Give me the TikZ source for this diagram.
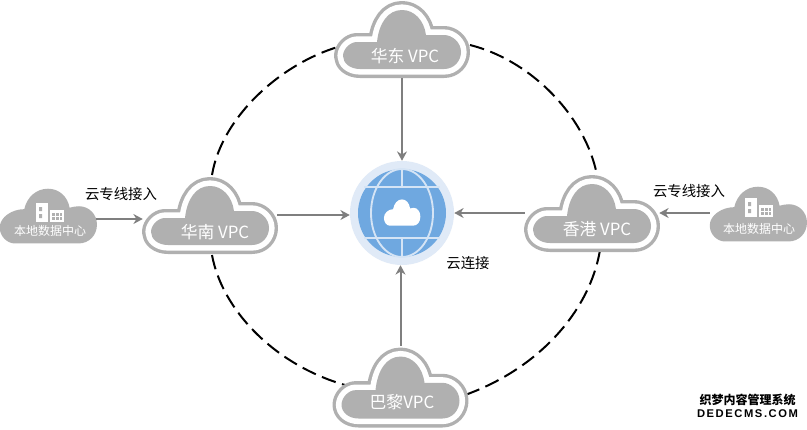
\documentclass[tikz,border=0pt]{standalone}
\usepackage{fontspec}
\setmainfont{Noto Sans CJK SC}
\newfontfamily\wmlatin[LetterSpace=14]{Liberation Sans}
\usetikzlibrary{arrows.meta,calc}
\definecolor{cloudgray}{HTML}{B0B0B0}
\definecolor{arrowgray}{HTML}{7F7F7F}
\definecolor{globeblue}{HTML}{6FA8E0}
\definecolor{globehalo}{HTML}{E0EAF7}
\definecolor{globeline}{HTML}{D5E4F5}
\newcommand{\cloudpath}{(-46,39) -- (42,39) .. controls (57,39) and (68,28) .. (68,13) .. controls (68,-1) and (57,-12) .. (43,-12) .. controls (38,-12) and (34,-11) .. (30,-10) .. controls (27,-26) and (15,-36) .. (0,-36) .. controls (-16,-36) and (-29,-25) .. (-33,-8) .. controls (-50,-8) and (-67,3) .. (-67,17) .. controls (-67,30) and (-56,39) .. (-46,39) -- cycle}
\newcommand{\innerpath}{(-42,30) -- (42,30) .. controls (52,30) and (59,22) .. (59,13) .. controls (59,3) and (50,-4) .. (42,-4) .. controls (36,-4) and (30,-4) .. (24,-4) .. controls (22,-19) and (12,-29) .. (0,-29) .. controls (-14,-29) and (-23,-16) .. (-25,3) .. controls (-32,3) and (-38,3) .. (-45,3) .. controls (-52,3) and (-59,10) .. (-59,17) .. controls (-59,24) and (-52,30) .. (-42,30) -- cycle}
\tikzset{
  x=0.75pt,y=-0.75pt,
  ringcloud/.pic={
    \path[draw=cloudgray,line width=13.5pt,line join=round] \innerpath;
    \path[draw=white,line width=8.4pt,line join=round] \innerpath;
    \path[fill=cloudgray] \innerpath;
  },
  solidcloud/.pic={\path[fill=cloudgray,xscale=0.72,yscale=0.73] \cloudpath;},
  building/.pic={
    \fill[white] (0,0) rectangle (12,19);
    \fill[white] (14,7) rectangle (28,19);
    \fill[cloudgray] (3,4) rectangle (6,8) (3,11) rectangle (6,15);
    \fill[cloudgray] (16,10) rectangle (26,17);
    \draw[white,line width=0.4pt] (19,10)--(19,17) (23,10)--(23,17) (16,13.5)--(26,13.5);
  },
  box/.style={inner sep=0pt,minimum width=100.5pt,minimum height=58.5pt},
  smallbox/.style={inner sep=0pt,minimum width=72pt,minimum height=42pt},
  vpctext/.style={text=white,font=\fontsize{12.6}{12.6}\selectfont,inner sep=0pt},
  dctext/.style={text=white,font=\fontsize{9}{9}\selectfont,inner sep=0pt},
  lbl/.style={text=black,font=\fontsize{10.8}{10.8}\selectfont,inner sep=0pt},
  conn/.style={draw=arrowgray,line width=1.5pt,-{Stealth[length=7pt,width=7.5pt]}},
  ring/.style={draw=black,line width=1.5pt,dash pattern=on 11pt off 5pt},
}
\begin{document}
\begin{tikzpicture}
\useasboundingbox[fill=white] (0,0) rectangle (807,429);
% anchors
\node[box] (hd) at (402,39) {};
\node[box] (hn) at (210,215) {};
\node[box] (hk) at (592,213) {};
\node[box,minimum height=61.5pt] (bl) at (400.5,387) {};
\node[smallbox] (dl) at (48,215) {};
\node[smallbox] (dr) at (758,213) {};
\node[circle,fill=globehalo,inner sep=0pt,minimum size=78pt] (gl) at (402,213) {};
% dashed ring
\coordinate (r1) at (212,175);
\coordinate (r2) at (345,45);
\coordinate (r3) at (470,45);
\coordinate (r4) at (597,175);
\coordinate (r5) at (600,250);
\coordinate (r6) at (465,395);
\coordinate (r7) at (345,385);
\coordinate (r8) at (212,255);
\draw[ring] (r1) .. controls (222,115) and (285,60) .. (r2);
\draw[ring] (r3) .. controls (530,60) and (585,115) .. (r4);
\draw[ring] (r5) .. controls (590,310) and (540,368) .. (r6);
\draw[ring] (r8) .. controls (222,310) and (275,365) .. (r7);
% globe
\fill[globeblue] (gl.center) circle (44);
\begin{scope}[shift={(gl.center)}]
  \draw[globeline,line width=1.4pt] (0,0) ellipse (31 and 44);
  \draw[globeline,line width=1.4pt] (0,-44) -- (0,-25) (0,25) -- (0,44) (-38,-26) -- (38,-26) (-38,25) -- (38,25);
  \path[fill=white,shift={(0,-1)},xscale=0.27,yscale=0.35] \cloudpath;
\end{scope}
% clouds
\pic at (hd.center) {ringcloud};
\pic at (hn.center) {ringcloud};
\pic at (hk.center) {ringcloud};
\pic[yscale=1.05] at (bl.center) {ringcloud};
\pic at (dl.center) {solidcloud};
\pic at (dr.center) {solidcloud};
\pic at (36,203) {building};
\pic at (745,198) {building};
% labels
\node[vpctext] (t1) at (405,56) {华东 VPC};
\node[vpctext] (t2) at (215,232) {华南 VPC};
\node[vpctext] (t3) at (597,229) {香港 VPC};
\node[vpctext] (t4) at (402,402) {巴黎VPC};
\node[dctext] (t5) at (50,231) {本地数据中心};
\node[dctext] (t6) at (759,229) {本地数据中心};
\node[lbl] (t7) at (121,194) {云专线接入};
\node[lbl] (t8) at (689,191) {云专线接入};
\node[lbl] (t9) at (468,263) {云连接};
% connectors
\draw[conn] (hd.south) -- (gl.north);
\draw[conn] (bl.north) -- (bl.north |- gl.south);
\draw[conn] (hn.east) -- (hn.east -| gl.west);
\draw[conn] (hk.west) -- (gl.east);
\draw[conn] ($(dl.east)+(0,4)$) -- ($(hn.west)+(0,4)$);
\draw[conn] (dr.west) -- (hk.east);
% watermark
\node[font=\fontsize{9}{9}\selectfont\bfseries,inner sep=0pt] (w1) at (747.5,400) {织梦内容管理系统};
\node[font=\fontsize{8.4}{8.4}\selectfont\bfseries\wmlatin,inner sep=0pt] (w2) at (747.5,414) {DEDECMS.COM};
\end{tikzpicture}
\end{document}
